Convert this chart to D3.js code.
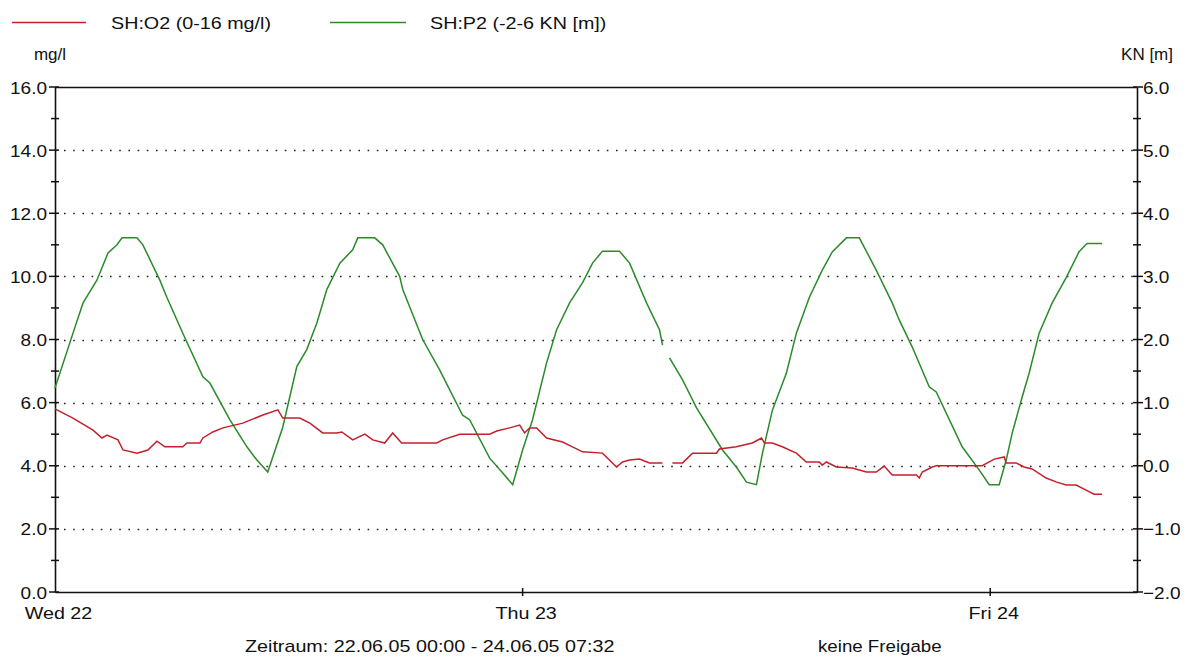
<!DOCTYPE html>
<html>
<head>
<meta charset="utf-8">
<script src="https://cdn.jsdelivr.net/npm/d3@7"></script>
<style>
html,body{margin:0;padding:0;background:#fff;}
svg{display:block;}
text{font-family:"Liberation Sans",Arial,sans-serif;fill:#111;}
</style>
</head>
<body>
<svg id="chart" width="1186" height="658"></svg>
<script>
// ---- data (hours since 22.06.05 00:00) ----
const hoursO2 = [0,0.92,1.95,2.41,2.67,3.23,3.49,4.21,4.77,5.23,5.64,6.56,6.77,7.44,7.59,8.10,8.62,9.64,10.67,11.44,11.69,12.56,13.08,13.74,14.46,14.72,15.28,15.90,16.31,16.92,17.33,17.79,19.59,19.90,20.77,22.31,22.67,23.33,23.85,24.10,24.36,24.72,25.23,26.05,26.56,27.08,28.10,28.82,29.13,29.49,30.0,30.51,31.18,31.4,31.69,32.21,32.72,33.95,34.10,34.97,35.79,36.26,36.41,36.82,37.33,38.05,38.56,39.23,39.38,39.59,40.10,40.92,41.64,42.15,42.56,42.97,44.21,44.36,44.51,45.03,45.23,47.59,47.95,48.21,48.72,48.82,49.33,49.74,50.15,50.87,51.38,51.9,52.41,52.92,53.33,53.74];
const valuesO2 = [5.8,5.51,5.13,4.88,4.97,4.82,4.5,4.4,4.5,4.78,4.6,4.6,4.72,4.72,4.88,5.07,5.2,5.35,5.61,5.77,5.51,5.51,5.35,5.04,5.04,5.07,4.82,5.0,4.82,4.72,5.04,4.72,4.72,4.82,5.0,5.0,5.1,5.2,5.29,5.04,5.2,5.2,4.88,4.75,4.6,4.44,4.4,3.96,4.12,4.18,4.21,4.09,4.09,null,4.09,4.09,4.4,4.4,4.53,4.6,4.72,4.88,4.72,4.72,4.6,4.4,4.12,4.12,4.02,4.12,3.96,3.93,3.8,3.8,3.99,3.71,3.71,3.61,3.8,3.96,4.0,4.0,4.12,4.21,4.28,4.09,4.09,3.96,3.9,3.61,3.49,3.39,3.39,3.23,3.1,3.1];

const hoursP2 = [0,1.03,1.44,2.15,2.72,3.18,3.44,4.21,4.51,5.38,5.74,6.56,7.59,7.95,8.97,9.85,10.36,10.92,11.69,12.41,12.92,13.44,13.95,14.62,15.28,15.54,16.41,16.82,17.69,17.85,18.87,19.74,20.92,21.28,22.31,22.97,23.49,24.0,24.51,25.23,25.74,26.41,27.08,27.59,28.1,28.97,29.49,30.36,31.03,31.18,31.4,31.54,32.21,32.92,34.26,34.97,35.49,36.0,36.31,36.82,37.54,38.05,38.72,39.38,39.9,40.62,41.28,42.15,42.97,43.33,44.0,44.87,45.23,46.56,47.44,47.95,48.46,48.82,49.13,49.64,50.0,50.51,51.18,51.9,52.56,52.97,53.74];
const valuesP2 = [1.23,2.2,2.58,2.94,3.37,3.5,3.61,3.61,3.5,2.94,2.67,2.1,1.41,1.31,0.73,0.3,0.09,-0.1,0.61,1.57,1.84,2.26,2.79,3.21,3.42,3.61,3.61,3.5,3.0,2.79,2.0,1.52,0.8,0.73,0.12,-0.11,-0.3,0.25,0.73,1.63,2.15,2.58,2.9,3.21,3.4,3.4,3.21,2.58,2.15,1.91,null,1.71,1.36,0.92,0.25,-0.02,-0.26,-0.3,0.2,0.88,1.47,2.1,2.67,3.1,3.39,3.61,3.61,3.1,2.58,2.31,1.88,1.25,1.17,0.3,-0.07,-0.3,-0.3,0.09,0.52,1.09,1.47,2.1,2.58,2.98,3.39,3.52,3.52];

const leftTicks = [0,2,4,6,8,10,12,14,16];
const rightTicks = [-2,-1,0,1,2,3,4,5,6];
const legendLabels = ["SH:O2 (0-16 mg/l)", "SH:P2 (-2-6 KN [m])"];
const leftUnit = "mg/l", rightUnit = "KN [m]";
const footerLeft = "Zeitraum: 22.06.05 00:00 - 24.06.05 07:32";
const footerRight = "keine Freigabe";

// ---- layout ----
const L = 55, R = 1137, T = 87, B = 592;
const SX = 1.16, FS = 17;
const RED = "#c4202c", GREEN = "#2b8a2b";

const svg = d3.select("#chart");
const t0 = new Date(2005,5,22,0,0);
const t1 = new Date(2005,5,24,7,32);
const x = d3.scaleTime().domain([t0,t1]).range([L,R]);
const yL = d3.scaleLinear().domain([0,16]).range([B,T]);
const yR = d3.scaleLinear().domain([-2,6]).range([B,T]);
const toDate = h => new Date(t0.getTime() + h*3600000);

function label(txt, px, py, anchor, sx){
  const g = svg.append("g").attr("transform",`translate(${px},${py}) scale(${sx||SX},1)`);
  g.append("text").attr("text-anchor",anchor||"start").attr("font-size",FS).text(txt);
}

// grid (dotted)
svg.append("g").selectAll("line").data(leftTicks.filter(d=>d>0&&d<16)).join("line")
  .attr("x1",L+1).attr("x2",R).attr("y1",d=>Math.round(yL(d))+0.5).attr("y2",d=>Math.round(yL(d))+0.5)
  .attr("stroke","#222").attr("stroke-width",1.6).attr("stroke-dasharray","1.6,7.6").attr("stroke-dashoffset",-8);

// frame top
svg.append("line").attr("x1",L).attr("x2",R).attr("y1",T+0.5).attr("y2",T+0.5).attr("stroke","#111").attr("stroke-width",1.5);

// left axis
const axL = d3.axisLeft(yL).tickValues(leftTicks).tickFormat(d3.format(".1f")).tickSize(0).tickPadding(0);
const gL = svg.append("g").attr("transform",`translate(${L},0)`).call(axL);
gL.select(".domain").attr("stroke","#111").attr("stroke-width",1.6);
gL.selectAll(".tick text").attr("font-size",FS).attr("fill","#111").attr("font-family","Liberation Sans, Arial")
  .attr("x",-8/1.12).attr("dy","0.36em").attr("transform",`scale(1.12,1)`);
const minorL = d3.range(1,16,2);
svg.append("g").selectAll("line").data(leftTicks).join("line")
  .attr("x1",L-6).attr("x2",L+4).attr("y1",d=>yL(d)).attr("y2",d=>yL(d)).attr("stroke","#111").attr("stroke-width",1.5);
svg.append("g").selectAll("line").data(minorL).join("line")
  .attr("x1",L-4).attr("x2",L+4).attr("y1",d=>yL(d)).attr("y2",d=>yL(d)).attr("stroke","#111").attr("stroke-width",1.5);

// right axis
const axR = d3.axisRight(yR).tickValues(rightTicks).tickFormat(d3.format(".1f")).tickSize(0).tickPadding(0);
const gR = svg.append("g").attr("transform",`translate(${R},0)`).call(axR);
gR.select(".domain").attr("stroke","#111").attr("stroke-width",1.6);
gR.selectAll(".tick text").attr("font-size",FS).attr("fill","#111").attr("font-family","Liberation Sans, Arial")
  .attr("x",6/1.12).attr("dy","0.36em").attr("transform",`scale(1.12,1)`);
const minorR = d3.range(-1.5,6,1);
svg.append("g").selectAll("line").data(rightTicks).join("line")
  .attr("x1",R-4).attr("x2",R+6).attr("y1",d=>yR(d)).attr("y2",d=>yR(d)).attr("stroke","#111").attr("stroke-width",1.5);
svg.append("g").selectAll("line").data(minorR).join("line")
  .attr("x1",R-4).attr("x2",R+4).attr("y1",d=>yR(d)).attr("y2",d=>yR(d)).attr("stroke","#111").attr("stroke-width",1.5);

// bottom axis
const axB = d3.axisBottom(x).ticks(d3.timeDay.every(1)).tickFormat(d3.timeFormat("%a %d")).tickSize(0).tickPadding(0);
const gB = svg.append("g").attr("transform",`translate(0,${B})`).call(axB);
gB.select(".domain").attr("stroke","#111").attr("stroke-width",1.6);
gB.selectAll(".tick text").attr("font-size",FS).attr("fill","#111").attr("font-family","Liberation Sans, Arial")
  .attr("x",3/SX).attr("y",27).attr("dy",0).attr("transform",`scale(${SX},1)`);
svg.append("g").selectAll("line").data(d3.timeDay.range(d3.timeDay.offset(t0,1),t1)).join("line")
  .attr("x1",d=>x(d)).attr("x2",d=>x(d)).attr("y1",B-4).attr("y2",B+4).attr("stroke","#111").attr("stroke-width",1.5);

// series lines
const lineO2 = d3.line().defined(d=>d[1]!==null).x(d=>x(toDate(d[0]))).y(d=>yL(d[1]));
const lineP2 = d3.line().defined(d=>d[1]!==null).x(d=>x(toDate(d[0]))).y(d=>yR(d[1]));
svg.append("path").datum(hoursP2.map((h,i)=>[h,valuesP2[i]])).attr("d",lineP2)
  .attr("fill","none").attr("stroke",GREEN).attr("stroke-width",1.5);
svg.append("path").datum(hoursO2.map((h,i)=>[h,valuesO2[i]])).attr("d",lineO2)
  .attr("fill","none").attr("stroke",RED).attr("stroke-width",1.5);

// legend
svg.append("line").attr("x1",12).attr("x2",86).attr("y1",22.5).attr("y2",22.5).attr("stroke",RED).attr("stroke-width",1.5);
label(legendLabels[0],111,29);
svg.append("line").attr("x1",330).attr("x2",406).attr("y1",22.5).attr("y2",22.5).attr("stroke",GREEN).attr("stroke-width",1.5);
label(legendLabels[1],430,29);

// unit labels
label(leftUnit,50,60,"middle",1.0);
label(rightUnit,1173,60,"end",1.0);

// footer
label(footerLeft,245,652);
label(footerRight,818,652,"start",1.1);
</script>
</body>
</html>
